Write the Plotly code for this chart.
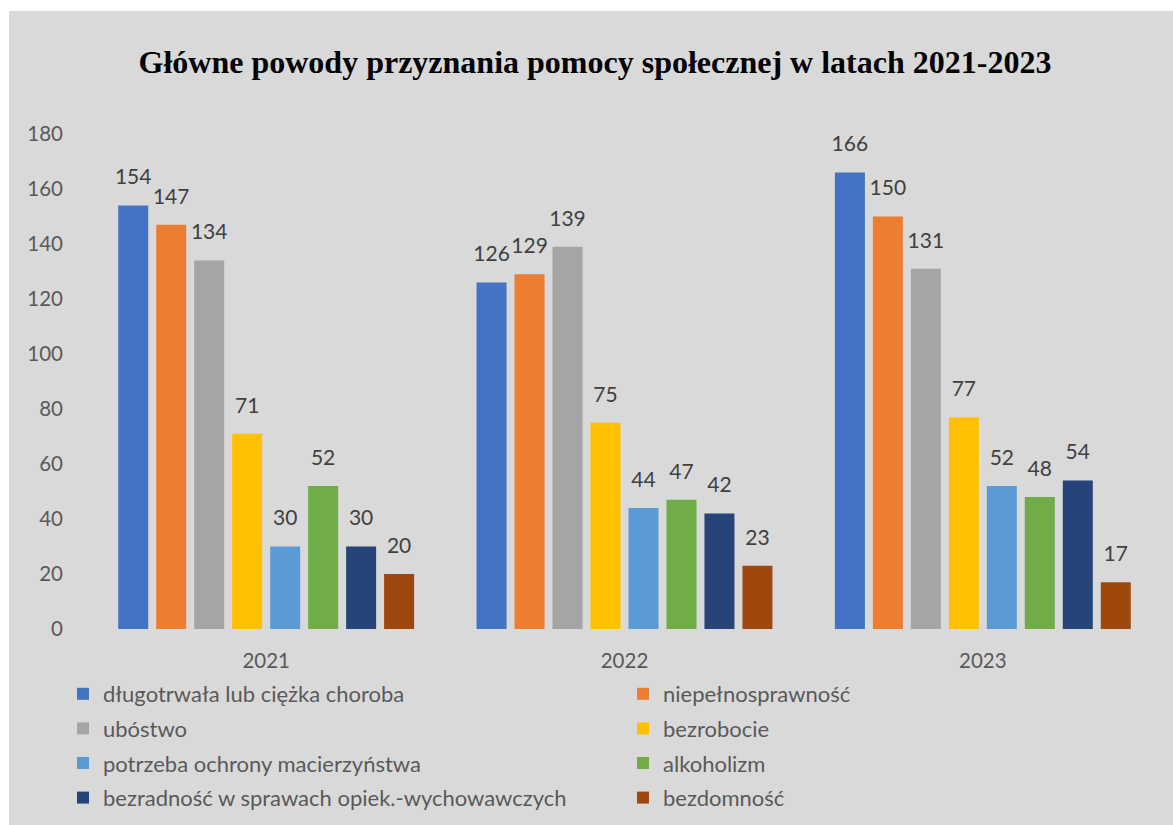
import plotly.graph_objects as go

years = ["2021", "2022", "2023"]
series_names = [
    "długotrwała lub ciężka choroba",
    "niepełnosprawność",
    "ubóstwo",
    "bezrobocie",
    "potrzeba ochrony macierzyństwa",
    "alkoholizm",
    "bezradność w sprawach opiek.-wychowawczych",
    "bezdomność",
]
choroba = [154, 126, 166]
niepelnosprawnosc = [147, 129, 150]
ubostwo = [134, 139, 131]
bezrobocie = [71, 75, 77]
macierzynstwo = [30, 44, 52]
alkoholizm = [52, 47, 48]
bezradnosc = [30, 42, 54]
bezdomnosc = [20, 23, 17]
series_values = [choroba, niepelnosprawnosc, ubostwo, bezrobocie,
                 macierzynstwo, alkoholizm, bezradnosc, bezdomnosc]
colors = ["#4472C4", "#ED7D31", "#A5A5A5", "#FFC000",
          "#5B9BD5", "#70AD47", "#264478", "#9E480E"]

W, H = 1173, 825
ml, mr, mt, mb = 87, 11, 134, 196
pw = W - ml - mr
ph = H - mt - mb

font_family = "Lato, 'Noto Sans', sans-serif"
txt_color = "#595959"
lbl_color = "#404040"
GAP = 0.152


def px_x(p):
    return (p - ml) / pw


def px_y(p):
    return (H - mb - p) / ph


fig = go.Figure()
for i, (name, vals, col) in enumerate(zip(series_names, series_values, colors)):
    fig.add_trace(go.Bar(
        x=years, y=vals, name=name,
        marker=dict(color=col, line=dict(width=0)),
        legend="legend" if i % 2 == 0 else "legend2",
        legendgroup=f"g{i}",
        hoverinfo="x+y+name",
    ))

# value labels, aligned with the bars via grouped scatter mode
for i, (name, vals) in enumerate(zip(series_names, series_values)):
    fig.add_trace(go.Scatter(
        x=years, y=vals, name=name,
        mode="markers+text",
        marker=dict(size=24, opacity=0),
        text=[str(v) for v in vals],
        textposition="top center",
        textfont=dict(size=21, color=lbl_color, family=font_family),
        showlegend=False,
        cliponaxis=False,
        hoverinfo="skip",
    ))

legend_common = dict(
    orientation="v",
    yanchor="top",
    font=dict(size=22, color=txt_color, family=font_family),
    bgcolor="rgba(0,0,0,0)",
    tracegroupgap=3,
    itemwidth=30,
)

fig.update_layout(
    width=W, height=H,
    margin=dict(l=ml, r=mr, t=mt, b=mb, autoexpand=False),
    paper_bgcolor="white",
    plot_bgcolor="rgba(0,0,0,0)",
    barmode="group",
    bargap=GAP,
    bargroupgap=0.21,
    scattermode="group",
    scattergap=GAP,
    title=dict(
        text="<b>Główne powody przyznania pomocy społecznej w latach 2021-2023</b>",
        font=dict(family="'Liberation Serif', 'Times New Roman', serif", size=32, color="black"),
        x=px_x(595), xanchor="center", xref="paper",
        y=1 - 62 / H, yanchor="middle",
    ),
    font=dict(family=font_family, color=txt_color, size=20),
    xaxis=dict(
        showgrid=False, showline=False, zeroline=False,
        tickfont=dict(size=20.5, color=txt_color, family=font_family),
        ticks="", ticklabelstandoff=17,
    ),
    yaxis=dict(
        range=[0, 180], dtick=20, tick0=0,
        showgrid=False, showline=False, zeroline=False,
        tickfont=dict(size=20.5, color=txt_color, family=font_family),
        ticks="", ticklabelstandoff=23,
    ),
    legend=dict(legend_common, x=px_x(63), xanchor="left", y=px_y(673)),
    legend2=dict(legend_common, x=px_x(623), xanchor="left", y=px_y(673)),
    shapes=[dict(
        type="rect", xref="paper", yref="paper", layer="below",
        x0=px_x(9), x1=px_x(W + 5), y0=px_y(H + 5), y1=px_y(11),
        fillcolor="#D9D9D9", line=dict(width=0),
    )],
)

fig.write_html(
    "out.html",
    config={"displayModeBar": False},
    post_script="document.body.style.margin='0px';document.documentElement.style.overflow='hidden';",
)
